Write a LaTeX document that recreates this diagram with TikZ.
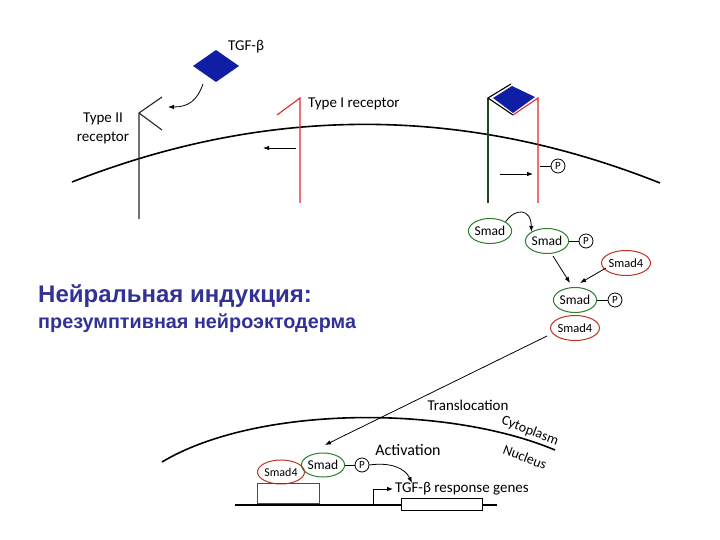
\documentclass[tikz,border=0pt]{standalone}
\usepackage{fontspec}
\setmainfont{Carlito}
\newfontfamily\titlefont{Liberation Sans}
\usetikzlibrary{arrows.meta,shapes.geometric}
\definecolor{smadgreen}{RGB}{45,125,45}
\definecolor{smadred}{RGB}{190,50,35}
\definecolor{recred}{RGB}{225,40,40}
\definecolor{recdark}{RGB}{30,45,30}
\definecolor{tgfblue}{RGB}{15,30,165}
\definecolor{titleblue}{RGB}{50,50,150}
\definecolor{boxpurple}{RGB}{125,40,125}
\tikzset{
  smadg/.style={ellipse,draw=smadgreen,line width=1pt,minimum width=41pt,minimum height=25pt,inner sep=0pt,font=\fontsize{13.5}{15}\selectfont},
  smadr/.style={ellipse,draw=smadred,line width=1pt,minimum width=41pt,minimum height=25pt,inner sep=0pt,font=\fontsize{12.5}{14}\selectfont},
  phos/.style={circle,draw,line width=0.8pt,minimum size=14pt,inner sep=0pt,font=\fontsize{11}{12}\selectfont},
  lbl/.style={font=\fontsize{15}{17}\selectfont,inner sep=0pt},
  arr/.style={-{Latex[length=6pt,width=4.5pt]},line width=0.8pt},
  memb/.style={line width=1.6pt},
}
\begin{document}
\begin{tikzpicture}[x=1pt,y=-1pt]
\useasboundingbox (0,0) rectangle (720,540);
\fill[white] (0,0) rectangle (720,540);

% cell membrane
\draw[memb] (72,182) .. controls (268,105) and (464,105) .. (660,183);

% TGF-beta ligand
\fill[tgfblue] (193,66) -- (216,50) -- (239,66) -- (216,82) -- cycle;
\node[lbl,anchor=west] (tgf) at (228,47) {TGF-β};
\coordinate (tgfa) at (203,84);
\coordinate (tgfb) at (168,107);
\draw[arr] (tgfa) .. controls (197,101) and (188,107) .. (tgfb);

% Type II receptor
\coordinate (r2top) at (139,113);
\coordinate (r2bot) at (139,219);
\coordinate (r2a) at (162,97);
\coordinate (r2b) at (162,130);
\draw[recdark,line width=1.1pt] (r2bot) -- (r2top) -- (r2a);
\draw[recdark,line width=1.1pt] (r2top) -- (r2b);
\node[lbl,align=center] (t2) at (103,128) {Type II\\[2pt]receptor};

% Type I receptor
\coordinate (r1top) at (300,98);
\coordinate (r1bot) at (300,203);
\coordinate (r1a) at (277,115);
\draw[recred,line width=1.1pt] (r1bot) -- (r1top) -- (r1a);
\node[lbl,anchor=west] (t1) at (308,104) {Type I receptor};
\coordinate (la) at (296,148);
\coordinate (lb) at (263,148);
\draw[arr] (la) -- (lb);

% receptor complex
\fill[tgfblue] (493,98) -- (512,86) -- (535,97) -- (513,113) -- cycle;
\coordinate (cgtop) at (488,98);
\coordinate (cgbot) at (488,203);
\coordinate (crtop) at (538,98);
\coordinate (crbot) at (538,203);
\coordinate (cmid) at (513,115);
\coordinate (cup) at (511,84);
\draw[smadgreen!60!black,line width=1.1pt] (cgbot) -- (cgtop);
\draw[black,line width=1.1pt] (cup) -- (cgtop) -- (cmid);
\draw[recred,line width=1.1pt] (crbot) -- (crtop) -- (cmid);
\coordinate (ra) at (500,174);
\coordinate (rb) at (533,174);
\draw[arr] (ra) -- (rb);
\node[phos] (p0) at (558,166) {P};
\coordinate (p0s) at (540,166);
\draw[line width=0.8pt] (p0s) -- (p0.west);

% Smads in cytoplasm
\node[smadg] (s1) at (490,231) {Smad};
\node[smadg] (s2) at (547,241) {Smad};
\node[phos] (p1) at (586,241) {P};
\draw[line width=0.8pt] (s2.east) -- (p1.west);
\draw[arr] (s1.north east) .. controls (515,208) and (531,208) .. (s2.north west);
\node[smadr] (s4a) at (626,263) {Smad4};
\node[smadg] (s3) at (575,300) {Smad};
\node[phos] (p2) at (615,300) {P};
\draw[line width=0.8pt] (s3.east) -- (p2.west);
\node[smadr] (s4b) at (575,328) {Smad4};
\coordinate (s2out) at (553,256);
\coordinate (s3in) at (570,283);
\draw[arr] (s2out) -- (s3in);
\coordinate (s4out) at (606,268);
\coordinate (s3in2) at (580,283);
\draw[arr] (s4out) -- (s3in2);

% nuclear membrane
\draw[memb] (162,462) .. controls (255,406) and (445,404) .. (555,450);
\node[font=\fontsize{14}{16}\selectfont,rotate=-21,inner sep=0pt] (cyt) at (530,431) {Cytoplasm};
\node[font=\fontsize{14}{16}\selectfont,rotate=-21,inner sep=0pt] (nuc) at (525,457) {Nucleus};
\node[lbl] (trans) at (468,405) {Translocation};

% Smad complex in nucleus
\node[smadr,minimum width=43pt,minimum height=24pt,font=\fontsize{12}{14}\selectfont] (n4) at (281,472) {Smad4};
\node[smadg,minimum width=41pt,minimum height=24pt] (ns) at (323,465) {Smad};
\node[phos] (np) at (362,465) {P};
\draw[line width=0.8pt] (ns.east) -- (np.west);
\coordinate (tstart) at (547,336);
\coordinate (tend) at (325,445);
\draw[arr] (tstart) -- (tend);
\node[font=\fontsize{16}{18}\selectfont,inner sep=0pt] (act) at (408,450) {Activation};
\coordinate (aend) at (412,483);
\draw[arr] (np.east) .. controls (390,462) and (405,468) .. (aend);

% DNA
\coordinate (dna1) at (235,505);
\coordinate (dna2) at (497,505);
\draw[line width=1.2pt] (dna1) -- (dna2);
\node[draw=boxpurple,line width=1pt,minimum width=62pt,minimum height=20pt,inner sep=0pt,anchor=south west] (box) at (257,504) {};
\node[draw,line width=1pt,fill=white,minimum width=81pt,minimum height=12pt,inner sep=0pt] (gene) at (441.5,504) {};
\coordinate (pr1) at (373,505);
\coordinate (pr2) at (373,489);
\coordinate (pr3) at (393,489);
\draw[arr] (pr1) -- (pr2) -- (pr3);
\node[lbl,anchor=west] (genes) at (395,489) {TGF-β response genes};

% title
\node[anchor=west,inner sep=0pt,text=titleblue,font=\titlefont\bfseries\fontsize{24}{28}\selectfont] (h1) at (38,296) {Нейральная индукция:};
\node[anchor=west,inner sep=0pt,text=titleblue,font=\titlefont\bfseries\fontsize{19.8}{22}\selectfont] (h2) at (38,323) {презумптивная нейроэктодерма};
\end{tikzpicture}
\end{document}
